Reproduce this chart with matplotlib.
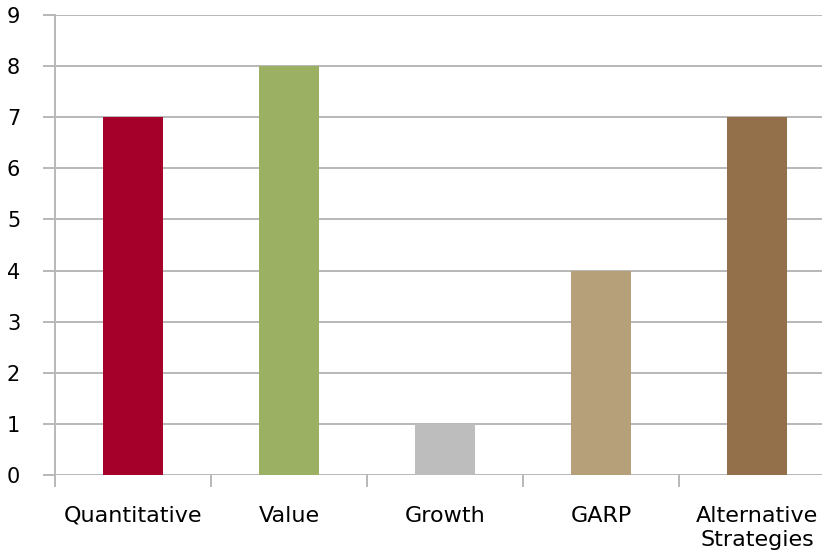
import matplotlib

matplotlib.use("Agg")
import matplotlib.pyplot as plt  # noqa: E402
import numpy as np  # noqa: E402

categories = ["Quantitative", "Value", "Growth", "GARP", "Alternative\nStrategies"]
counts = [7, 8, 1, 4, 7]
colors = ["#a50029", "#9cb064", "#bdbdbd", "#b5a07a", "#937049"]
y_ticks = list(range(0, 10))

GRID = "#b8b8b8"

fig = plt.figure(figsize=(8.22, 5.57), dpi=100)
ax = fig.add_axes([0.0669, 0.1472, 0.949, 0.826])

x = np.arange(len(categories))
ax.bar(x, counts, width=0.39, color=colors, zorder=3)

ax.set_xlim(-0.5, len(categories) - 0.5)
ax.set_ylim(0, 9)
ax.set_yticks(y_ticks)
ax.yaxis.grid(True, color=GRID, linewidth=1.4, zorder=0)
ax.set_axisbelow(True)

for side in ("top", "right", "bottom"):
    ax.spines[side].set_visible(False)
ax.spines["left"].set_color(GRID)
ax.spines["left"].set_linewidth(1.4)

ax.tick_params(axis="y", length=8.6, width=1.4, color=GRID, pad=16.5,
               labelsize=15, labelcolor="black")

# category labels centered, tick marks only at the boundaries
ax.set_xticks(x)
ax.set_xticklabels(categories, fontsize=16, linespacing=1.3)
ax.tick_params(axis="x", which="major", length=0, pad=22)
ax.set_xticks(np.arange(len(categories)) - 0.5, minor=True)
ax.tick_params(axis="x", which="minor", length=8.6, width=1.4, color=GRID)

fig.savefig("out.png", dpi=100)
plt.close(fig)
